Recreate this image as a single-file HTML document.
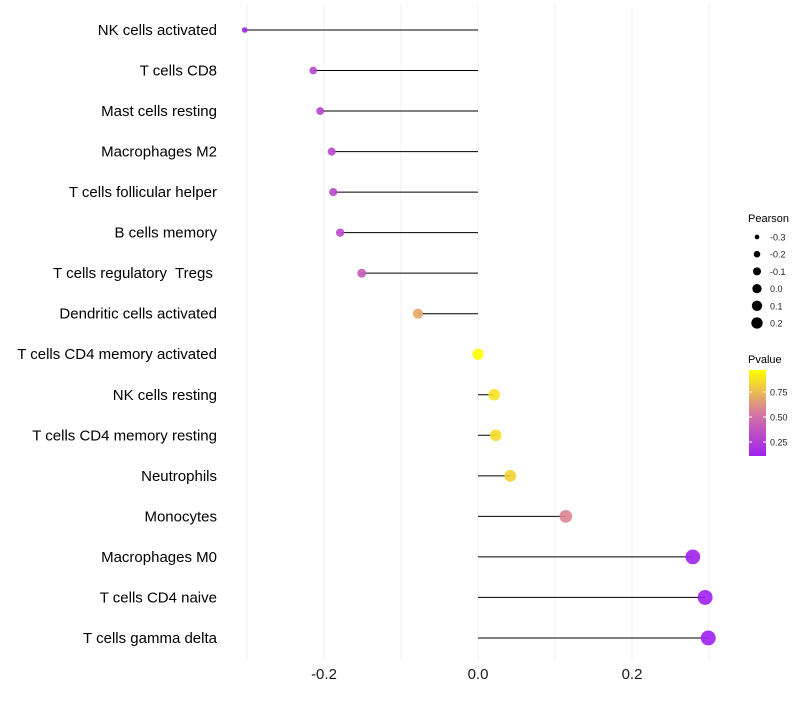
<!DOCTYPE html>
<html><head><meta charset="utf-8"><style>
body{margin:0;background:#fff;font-family:"Liberation Sans",sans-serif}
svg text{font-family:"Liberation Sans",sans-serif;white-space:pre}
</style></head><body>
<svg id="chart" width="800" height="700" xmlns="http://www.w3.org/2000/svg">
<g id="grid"></g>
<g id="marks"></g>
<g id="ylabels"></g>
<g id="xlabels"></g>
<g id="legend"></g>
</svg>
<script>
const categories = ["NK cells activated","T cells CD8","Mast cells resting","Macrophages M2","T cells follicular helper","B cells memory","T cells regulatory  Tregs ","Dendritic cells activated","T cells CD4 memory activated","NK cells resting","T cells CD4 memory resting","Neutrophils","Monocytes","Macrophages M0","T cells CD4 naive","T cells gamma delta"];
const pearson = [-0.303,-0.214,-0.205,-0.190,-0.188,-0.179,-0.151,-0.078,0.000,0.021,0.023,0.042,0.114,0.279,0.295,0.299];
const pvalue = [0.13,0.32,0.32,0.33,0.33,0.34,0.42,0.72,0.99,0.90,0.88,0.85,0.60,0.14,0.13,0.13];
const xTicks = [-0.2,0.0,0.2];
const xTickLabels = ["-0.2","0.0","0.2"];
const gridVals = [-0.3,-0.2,-0.1,0.0,0.1,0.2,0.3];
const legendSizes = [-0.3,-0.2,-0.1,0.0,0.1,0.2];
const legendSizeLabels = ["-0.3","-0.2","-0.1","0.0","0.1","0.2"];
const colorTicks = [0.75,0.50,0.25];
const colorTickLabels = ["0.75","0.50","0.25"];

const NS="http://www.w3.org/2000/svg";
const xs=v=>478+v*770;
const ys=i=>30+i*40.53;
const rs=v=>Math.sqrt(Math.max(4,32+80*v));
function lerp(a,b,t){return a.map((x,i)=>Math.round(x+(b[i]-x)*t));}
function col(p){
  const lo=[160,32,240],mid=[214,120,160],hi=[255,255,0];
  const t=Math.max(0,Math.min(1,(p-0.13)/(0.99-0.13)));
  const c=t<0.5?lerp(lo,mid,t*2):lerp(mid,hi,(t-0.5)*2);
  return `rgb(${c[0]},${c[1]},${c[2]})`;
}
function mk(tag,attrs,parent){const e=document.createElementNS(NS,tag);for(const k in attrs)e.setAttribute(k,attrs[k]);parent.appendChild(e);return e;}
const grid=document.getElementById('grid'),marks=document.getElementById('marks'),yl=document.getElementById('ylabels'),xl=document.getElementById('xlabels'),lg=document.getElementById('legend');
gridVals.forEach(v=>{
  const l=mk('line',{x1:xs(v),x2:xs(v),y1:5,y2:660,stroke:'#f0f0f0','stroke-width':1},grid);
  
  
});
categories.forEach((c,i)=>{
  const y=ys(i);
  const seg=mk('line',{x1:xs(0),x2:xs(pearson[i]),y1:y,y2:y,stroke:'#000','stroke-width':1},marks);
  
  
  const pt=mk('circle',{cx:xs(pearson[i]),cy:y,r:rs(pearson[i]),fill:col(pvalue[i]),'fill-opacity':0.9},marks);
  
  
  const t=mk('text',{x:217,y:y+5,'text-anchor':'end','font-size':15,fill:'#000'},yl);
  t.textContent=c;
  
  
});
xTicks.forEach((v,i)=>{
  const t=mk('text',{x:xs(v),y:679,'text-anchor':'middle','font-size':15,fill:'#1a1a1a'},xl);
  t.textContent=xTickLabels[i];
  
  
});
const pt=mk('text',{x:748,y:222,'font-size':11,fill:'#000'},lg);pt.textContent='Pearson';


legendSizes.forEach((v,i)=>{
  const y=237+i*17.2;
  const c=mk('circle',{cx:757,cy:y,r:rs(v)*0.82,fill:'#000'},lg);
  
  
  const t=mk('text',{x:770,y:y+3.5,'font-size':9,fill:'#222'},lg);t.textContent=legendSizeLabels[i];
  
  
});
const ct=mk('text',{x:748,y:363,'font-size':11,fill:'#000'},lg);ct.textContent='Pvalue';


const defs=mk('defs',{},lg);
const gr=mk('linearGradient',{id:'pg',x1:0,y1:1,x2:0,y2:0},defs);
[0,0.25,0.5,0.75,1].forEach(s=>mk('stop',{offset:s,'stop-color':col(0.13+s*0.86)},gr));
const bar=mk('rect',{x:749,y:370,width:17,height:86,fill:'url(#pg)'},lg);


colorTicks.forEach((v,i)=>{
  const y=455-(v-0.12)*100;
  mk('line',{x1:749,x2:752,y1:y,y2:y,stroke:'#fff'},lg);
  mk('line',{x1:763,x2:766,y1:y,y2:y,stroke:'#fff'},lg);
  const t=mk('text',{x:770,y:y+3.5,'font-size':9,fill:'#222'},lg);t.textContent=colorTickLabels[i];
  
  
});
</script>
</body></html>
